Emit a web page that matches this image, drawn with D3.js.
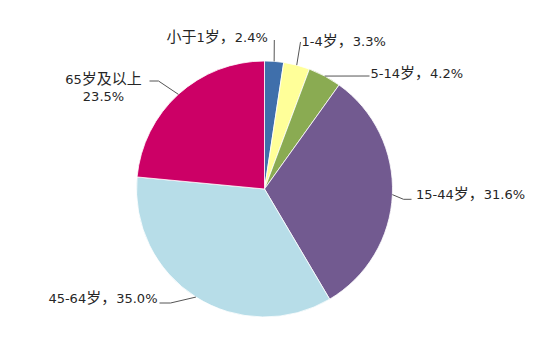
<!DOCTYPE html>
<html>
<head>
<meta charset="utf-8">
<script src="https://cdn.jsdelivr.net/npm/d3@7"></script>
<style>
  body { margin: 0; background: #fff; }
</style>
</head>
<body>
<script>
// age groups and their share of the total (percent)
var groups = ["小于1岁", "1-4岁", "5-14岁", "15-44岁", "45-64岁", "65岁及以上"];
var shares = [2.4, 3.3, 4.2, 31.6, 35.0, 23.5];
var colors = ["#3f6fab", "#ffff99", "#8aab52", "#725a90", "#b7dde8", "#cc0066"];

var width = 555, height = 345;
var cx = 264.5, cy = 189, radius = 128;

var svg = d3.select("body").append("svg")
    .attr("width", width)
    .attr("height", height);

var data = groups.map(function(g, i) {
    return { name: g, value: shares[i], color: colors[i] };
});

var pie = d3.pie()
    .sort(null)
    .value(function(d) { return d.value; });

var arc = d3.arc()
    .innerRadius(0)
    .outerRadius(radius);

var arcs = pie(data);

var g = svg.append("g")
    .attr("transform", "translate(" + cx + "," + cy + ")");

g.selectAll("path")
    .data(arcs)
    .enter()
    .append("path")
    .attr("d", arc)
    .attr("fill", function(d) { return d.data.color; })
    .attr("stroke", "#fff")
    .attr("stroke-width", 0.8);

// label placement: leader line bend points and text anchor, relative to chart centre
var labelLayout = [
    { pts: [[9.8, -149]], tx: -98, ty: -147, anchor: "start" },
    { pts: [[36, -147]], tx: 37, ty: -143, anchor: "start" },
    { pts: [[105, -113]], tx: 106, ty: -111, anchor: "start" },
    { pts: [[139, 10.3], [147, 10.3]], tx: 151.5, ty: 10, anchor: "start" },
    { pts: [[-94, 114], [-105, 114]], tx: -107, ty: 114, anchor: "end" },
    { pts: [[-106, -108], [-115, -108]], tx: -161, ty: -105, anchor: "middle", twoLine: true }
];

var cjk = /[\u3000-\u9fff\uff00-\uffef]/;

// split a string into runs of CJK / latin so each run gets its own size
function addRuns(textSel, str) {
    var runs = [];
    for (var i = 0; i < str.length; i++) {
        var isC = cjk.test(str[i]);
        if (runs.length && runs[runs.length - 1].c === isC) {
            runs[runs.length - 1].s += str[i];
        } else {
            runs.push({ c: isC, s: str[i] });
        }
    }
    runs.forEach(function(r) {
        textSel.append("tspan")
            .attr("font-size", r.c ? 15 : 13)
            .attr("font-family", r.c ? "'Noto Sans CJK SC'" : "'DejaVu Sans'")
            .text(r.s);
    });
}

var labels = g.selectAll("g.lab")
    .data(arcs)
    .enter()
    .append("g")
    .attr("class", "lab");

labels.append("polyline")
    .attr("points", function(d, i) {
        var a = (d.startAngle + d.endAngle) / 2;
        var p0 = [radius * Math.sin(a), -radius * Math.cos(a)];
        return [p0].concat(labelLayout[i].pts).map(function(p) { return p.join(","); }).join(" ");
    })
    .attr("fill", "none")
    .attr("stroke", "#555")
    .attr("stroke-width", 1);

labels.each(function(d, i) {
    var L = labelLayout[i];
    var pct = d3.format(".1f")(d.data.value) + "%";
    var sel = d3.select(this);
    if (L.twoLine) {
        var t1 = sel.append("text")
            .attr("x", L.tx).attr("y", L.ty)
            .attr("text-anchor", L.anchor)
            .attr("fill", "#262626");
        addRuns(t1, d.data.name);
        var t2 = sel.append("text")
            .attr("x", L.tx).attr("y", L.ty + 17)
            .attr("text-anchor", L.anchor)
            .attr("fill", "#262626");
        addRuns(t2, pct);
    } else {
        var t = sel.append("text")
            .attr("x", L.tx).attr("y", L.ty)
            .attr("text-anchor", L.anchor)
            .attr("fill", "#262626");
        addRuns(t, d.data.name + "，" + pct);
    }
});
</script>
</body>
</html>
